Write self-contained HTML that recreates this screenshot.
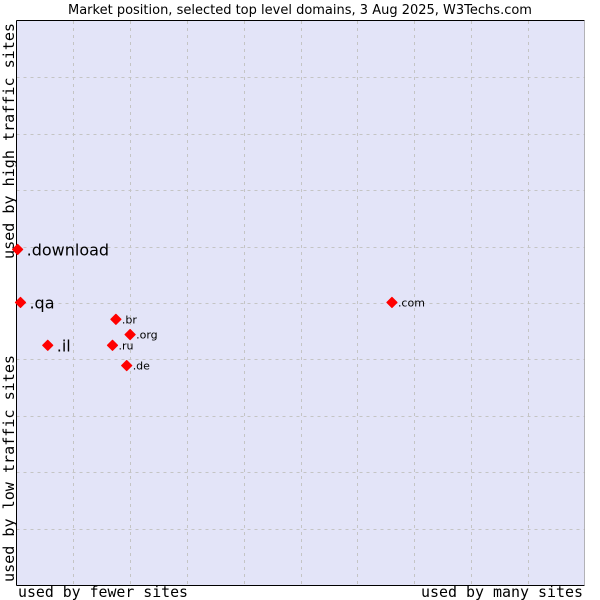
<!DOCTYPE html>
<html><head><meta charset="utf-8"><style>
body{margin:0;background:#fff;width:600px;height:600px;overflow:hidden}
svg{display:block}
</style></head><body>
<svg id="chart" width="600" height="600" xmlns="http://www.w3.org/2000/svg">
<text x="300" y="14" text-anchor="middle" font-family="DejaVu Sans, sans-serif" font-size="13" fill="#000">Market position, selected top level domains, 3 Aug 2025, W3Techs.com</text>
<rect x="16.5" y="20.5" width="568" height="564.5" fill="#e3e4f8" stroke="none"/>
<g id="grid"></g>
<line x1="16.5" y1="20.5" x2="16.5" y2="585.5" stroke="#000"/>
<line x1="16.5" y1="585.5" x2="584.5" y2="585.5" stroke="#000"/>
<line x1="16.5" y1="20.5" x2="584.5" y2="20.5" stroke="#000" stroke-width="1"/>
<line x1="584.5" y1="20.5" x2="584.5" y2="585.5" stroke="#888" stroke-width="0.6"/>
<g id="points"></g>
<text x="18" y="597" font-family="DejaVu Sans Mono, Liberation Mono, monospace" font-size="15" textLength="170" lengthAdjust="spacingAndGlyphs">used by fewer sites</text>
<text x="421" y="597" font-family="DejaVu Sans Mono, Liberation Mono, monospace" font-size="15" textLength="162" lengthAdjust="spacingAndGlyphs">used by many sites</text>
<text transform="translate(14,259) rotate(-90)" font-family="DejaVu Sans Mono, Liberation Mono, monospace" font-size="15" textLength="236" lengthAdjust="spacingAndGlyphs">used by high traffic sites</text>
<text transform="translate(14,582) rotate(-90)" font-family="DejaVu Sans Mono, Liberation Mono, monospace" font-size="15" textLength="227" lengthAdjust="spacingAndGlyphs">used by low traffic sites</text>
</svg>
<script>
const domains = [".download", ".qa", ".il", ".br", ".org", ".ru", ".de", ".com"];
const siteUsage = [0.02, 0.07, 0.55, 1.75, 2.0, 1.69, 1.94, 6.61];
const trafficLevel = [5.95, 5.01, 4.25, 4.71, 4.44, 4.25, 3.89, 5.01];
const bigLabels = [true, true, true, false, false, false, false, false];
const NS = "http://www.w3.org/2000/svg";
const X0 = 16.5, X1 = 584.5, Y0 = 585, Y1 = 21;
const xs = v => X0 + (X1 - X0) * v / 10;
const ys = v => Y0 - (Y0 - Y1) * v / 10;
const grid = document.getElementById('grid');
for (let k = 1; k < 10; k++) {
  const vx = document.createElementNS(NS, 'line');
  const x = Math.round(xs(k)) + 0.5;
  vx.setAttribute('x1', x); vx.setAttribute('x2', x);
  vx.setAttribute('y1', Y1); vx.setAttribute('y2', Y0);
  vx.setAttribute('stroke', '#c4c4c4'); vx.setAttribute('stroke-dasharray', '3,4');
  
  
  grid.appendChild(vx);
  const hz = document.createElementNS(NS, 'line');
  const y = Math.round(ys(k)) + 0.5;
  hz.setAttribute('x1', X0); hz.setAttribute('x2', X1);
  hz.setAttribute('y1', y); hz.setAttribute('y2', y);
  hz.setAttribute('stroke', '#c4c4c4'); hz.setAttribute('stroke-dasharray', '3,4');
  
  
  grid.appendChild(hz);
}
const pts = document.getElementById('points');
domains.forEach((d, i) => {
  const cx = xs(siteUsage[i]), cy = ys(trafficLevel[i]);
  const m = document.createElementNS(NS, 'path');
  m.setAttribute('d', `M${cx-5},${cy} L${cx},${cy-5} L${cx+5},${cy} L${cx},${cy+5} Z`);
  m.setAttribute('fill', '#f00');
  m.setAttribute('stroke', '#f00');
  m.setAttribute('stroke-width', '1.2');
  m.setAttribute('stroke-linejoin', 'round');
  
  
  pts.appendChild(m);
  const t = document.createElementNS(NS, 'text');
  const big = bigLabels[i];
  t.setAttribute('x', cx + (big ? 9 : 6));
  t.setAttribute('y', cy + (big ? 6 : 4));
  t.setAttribute('font-family', 'DejaVu Sans, sans-serif');
  t.setAttribute('font-size', big ? '16' : '11');
  t.textContent = d;
  
  
  pts.appendChild(t);
});
</script>
</body></html>
